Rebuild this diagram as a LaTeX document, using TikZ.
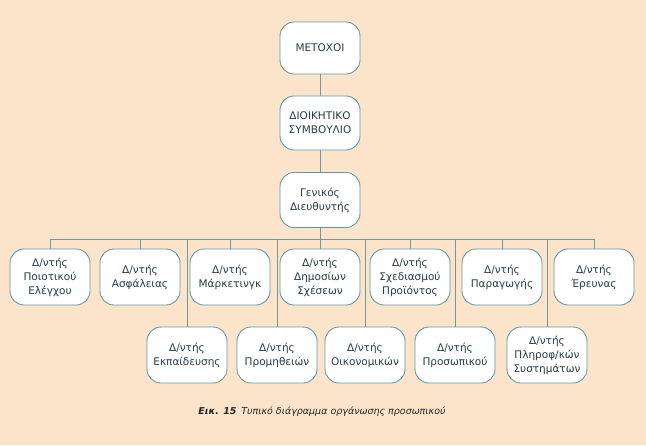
\documentclass[tikz,border=0pt]{standalone}
\usepackage{fontspec}
\setmainfont{DejaVu Sans}
\begin{document}
\definecolor{bg}{RGB}{252,228,202}
\definecolor{edge}{RGB}{95,155,165}
\definecolor{ln}{RGB}{120,150,150}
\definecolor{txt}{RGB}{40,60,70}
\begin{tikzpicture}[x=1pt,y=-1pt,
  box/.style={draw=edge,line width=0.9pt,fill=white,rounded corners=14pt,
    minimum width=80pt,minimum height=56pt,align=center,font=\fontsize{10.5}{14}\selectfont,text=txt,inner sep=1pt},
  conn/.style={draw=ln,line width=0.9pt}]
\fill[bg] (0,0) rectangle (646,445);
\useasboundingbox (0,0) rectangle (646,445);
\node[box,minimum height=52pt] (m) at (320,48) {ΜΕΤΟΧΟΙ};
\node[box,minimum height=54pt] (d) at (320,123) {ΔΙΟΙΚΗΤΙΚΟ\\ΣΥΜΒΟΥΛΙΟ};
\node[box,minimum height=55pt] (g) at (320,200) {Γενικός\\Διευθυντής};
\node[box] (t1) at (50,277) {Δ/ντής\\Ποιοτικού\\Ελέγχου};
\node[box] (t2) at (140,277) {Δ/ντής\\Ασφάλειας};
\node[box] (t3) at (230,277) {Δ/ντής\\Μάρκετινγκ};
\node[box] (t4) at (320,277) {Δ/ντής\\Δημοσίων\\Σχέσεων};
\node[box] (t5) at (410,277) {Δ/ντής\\Σχεδιασμού\\Προϊόντος};
\node[box] (t6) at (502,277) {Δ/ντής\\Παραγωγής};
\node[box] (t7) at (594,277) {Δ/ντής\\Έρευνας};
\node[box] (b1) at (187,355) {Δ/ντής\\Εκπαίδευσης};
\node[box] (b2) at (277,355) {Δ/ντής\\Προμηθειών};
\node[box] (b3) at (365,355) {Δ/ντής\\Οικονομικών};
\node[box] (b4) at (455,355) {Δ/ντής\\Προσωπικού};
\node[box] (b5) at (547,355) {Δ/ντής\\Πληροφ/κών\\Συστημάτων};
\coordinate (busL) at (50,239);
\coordinate (busR) at (594,239);
\draw[conn] (m) -- (d);
\draw[conn] (d) -- (g);
\draw[conn] (g.south) -- (320,239);
\draw[conn] (busL) -- (busR);
\foreach \n in {t1,t2,t3,t4,t5,t6,t7}{\draw[conn] (\n.north |- busL) -- (\n.north);}
\foreach \n in {b1,b2,b3,b4,b5}{\draw[conn] (\n.north |- busL) -- (\n.north);}
\node[font=\fontsize{9.5}{11}\selectfont\itshape,text=black!85] (cap) at (322,412) {\textbf{Εικ. 15}\enspace Τυπικό διάγραμμα οργάνωσης προσωπικού};
\end{tikzpicture}
\end{document}
